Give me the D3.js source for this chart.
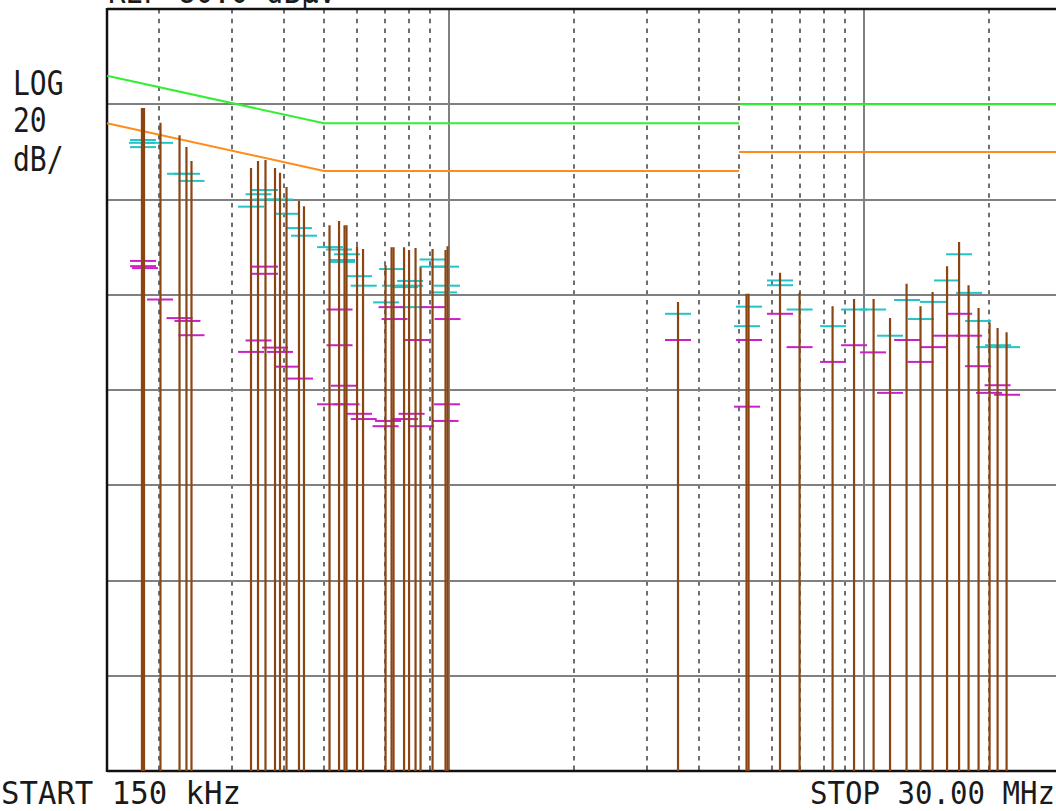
<!DOCTYPE html>
<html>
<head>
<meta charset="utf-8">
<script src="https://cdn.jsdelivr.net/npm/d3@7/dist/d3.min.js"></script>
<style>
  body { margin: 0; background: #fff; }
  svg text { font-family: "DejaVu Sans Mono", monospace; fill: #1a1a1a; }
</style>
</head>
<body>
<div id="chart"></div>
<script>
// frequency in MHz, level in dBuV
const peaks = [
  [0.1821, 59.2], [0.1842, 59.2], [0.2018, 56.1], [0.2243, 53.5], [0.2331, 51.0], [0.2397, 48.1],
  [0.3335, 46.6], [0.3467, 48.1], [0.3614, 48.3], [0.3810, 46.6], [0.3917, 45.6], [0.4061, 42.6],
  [0.4352, 39.7], [0.4474, 38.6],
  [0.5155, 34.6], [0.5435, 35.5], [0.5603, 34.6], [0.5665, 34.6], [0.6006, 30.2], [0.6209, 29.6],
  [0.7035, 26.2], [0.7273, 30.0], [0.7354, 30.0], [0.7796, 30.0], [0.8015, 29.4], [0.8309, 29.8],
  [0.8543, 25.8], [0.9131, 29.6], [0.9813, 29.4], [0.9923, 30.2],
  [3.564, 18.5], [5.212, 20.2], [5.271, 20.2], [6.276, 24.6], [6.996, 20.4], [8.401, 17.6],
  [9.464, 19.1], [10.548, 19.1], [11.555, 15.1], [12.666, 22.3], [13.684, 17.6], [14.630, 20.6],
  [15.856, 26.0], [16.949, 31.1], [17.865, 22.0], [18.884, 17.2], [20.075, 14.1], [20.985, 13.0],
  [22.059, 12.1]
];

// quasi-peak readings (cyan)
const qpMarks = [
  [0.1832, 52.5], [0.1821, 51.9], [0.2013, 51.9], [0.1832, 51.0], [0.2249, 45.4], [0.2338, 45.4],
  [0.2397, 43.9],
  [0.3604, 42.0], [0.3477, 41.1], [0.3624, 40.0], [0.3917, 40.0], [0.3335, 38.5], [0.4072, 37.0],
  [0.4352, 34.0], [0.4474, 32.4],
  [0.5170, 30.0], [0.5435, 29.5], [0.5681, 28.5], [0.5526, 27.3], [0.5526, 26.9], [0.6073, 23.9],
  [0.6233, 21.9], [0.9131, 27.4], [0.9131, 25.9], [0.9840, 25.9], [0.7294, 25.4], [0.8060, 22.9],
  [0.7416, 21.9], [0.8060, 21.9], [0.7839, 21.6], [0.9895, 21.9], [0.9732, 20.5], [0.7055, 18.4],
  [0.8195, 17.4],
  [3.564, 16.0], [5.285, 17.5], [5.227, 13.4], [6.276, 23.0], [6.276, 22.0], [6.996, 16.9],
  [8.424, 13.4], [9.464, 16.9], [10.518, 16.9], [11.555, 11.4], [12.702, 18.9], [13.722, 14.9],
  [14.671, 18.5], [15.856, 23.0], [16.949, 28.5], [17.915, 20.4], [18.832, 14.5], [20.019, 9.0],
  [21.043, 9.4], [22.120, 9.0]
];

// average readings (magenta)
const avMarks = [
  [0.1832, 27.1], [0.1832, 26.0], [0.1852, 25.6], [0.2013, 19.0], [0.2243, 15.1], [0.2344, 14.5],
  [0.2397, 11.5],
  [0.3604, 25.9], [0.3604, 24.4], [0.3477, 10.4], [0.3810, 8.9], [0.3335, 8.0], [0.3917, 8.0],
  [0.4072, 4.9], [0.4376, 2.4],
  [0.5450, 16.9], [0.7273, 17.4], [0.9131, 17.4], [0.7395, 14.9], [0.9923, 14.9], [0.8355, 10.5],
  [0.5450, 9.4], [0.5587, 0.9], [0.5170, -3.0], [0.5665, -3.0], [0.6073, -5.0], [0.6233, -6.1],
  [0.7133, -6.5], [0.7035, -7.6], [0.8127, -5.0], [0.7839, -6.1], [0.8567, -7.6], [0.9895, -3.0],
  [0.9813, -6.5],
  [3.564, 10.5], [5.285, 10.5], [5.227, -3.5], [6.276, 16.0], [6.996, 9.0], [8.424, 5.9],
  [9.464, 9.4], [10.518, 7.9], [11.555, -0.6], [12.702, 10.5], [13.684, 5.9], [14.671, 9.0],
  [15.768, 11.4], [17.915, 11.4], [16.949, 16.0], [18.832, 5.0], [20.985, 1.0], [20.019, -0.6],
  [22.120, -1.0]
];

// limit lines, split at the 5 MHz step
const qpLimit = [[[0.15, 66], [0.5, 56], [5, 56]], [[5, 60], [30, 60]]];
const avLimit = [[[0.15, 56], [0.5, 46], [5, 46]], [[5, 50], [30, 50]]];

const majorFreqs = [1, 10];
const minorFreqs = [0.2, 0.3, 0.4, 0.5, 0.6, 0.7, 0.8, 0.9, 2, 3, 4, 5, 6, 7, 8, 9, 20];
const levelTicks = [60, 40, 20, 0, -20, -40, -60];
const scaleLabels = ["LOG", "20", "dB/"];
const refLabel = "REF 80.0 dB\u03bcV";
const startLabel = "START 150 kHz";
const stopLabel = "STOP 30.00 MHz";

const width = 1056, height = 811;
const plotLeft = 107, plotTop = 9, plotBottom = 771;

const svg = d3.select("#chart").append("svg")
  .attr("width", width)
  .attr("height", height);

const x = d3.scaleLog().domain([0.15, 30]).range([plotLeft, 1062]);
const y = d3.scaleLinear().domain([-80, 80]).range([plotBottom, plotTop]);

// grid
const grid = svg.append("g");
grid.selectAll(".minor")
  .data(minorFreqs)
  .enter().append("line")
    .attr("x1", d => Math.round(x(d)))
    .attr("x2", d => Math.round(x(d)))
    .attr("y1", plotTop)
    .attr("y2", plotBottom)
    .attr("stroke", "#6e6e6e")
    .attr("stroke-width", 2)
    .attr("stroke-dasharray", "4.5,5.2");

grid.selectAll(".major")
  .data(majorFreqs)
  .enter().append("line")
    .attr("x1", d => Math.round(x(d)))
    .attr("x2", d => Math.round(x(d)))
    .attr("y1", plotTop)
    .attr("y2", plotBottom)
    .attr("stroke", "#808080")
    .attr("stroke-width", 2);

grid.selectAll(".level")
  .data(levelTicks)
  .enter().append("line")
    .attr("x1", plotLeft)
    .attr("x2", width)
    .attr("y1", d => Math.round(y(d)))
    .attr("y2", d => Math.round(y(d)))
    .attr("stroke", "#808080")
    .attr("stroke-width", 2);

// frame
grid.append("line").attr("x1", plotLeft).attr("x2", plotLeft).attr("y1", plotTop - 1).attr("y2", plotBottom + 1)
  .attr("stroke", "#111").attr("stroke-width", 2.5);
grid.append("line").attr("x1", plotLeft).attr("x2", width).attr("y1", plotTop).attr("y2", plotTop)
  .attr("stroke", "#111").attr("stroke-width", 2.5);
grid.append("line").attr("x1", plotLeft).attr("x2", width).attr("y1", plotBottom).attr("y2", plotBottom)
  .attr("stroke", "#111").attr("stroke-width", 2.5);

// limits
const limitLine = d3.line().x(d => x(d[0])).y(d => y(d[1]));
svg.selectAll(".qp-limit")
  .data(qpLimit)
  .enter().append("path")
    .attr("d", limitLine)
    .attr("fill", "none")
    .attr("stroke", "#33ee33")
    .attr("stroke-width", 2);
svg.selectAll(".av-limit")
  .data(avLimit)
  .enter().append("path")
    .attr("d", limitLine)
    .attr("fill", "none")
    .attr("stroke", "#ff8c1a")
    .attr("stroke-width", 2);

// measurement ticks
const tickHalf = 13;
svg.selectAll(".qp")
  .data(qpMarks)
  .enter().append("line")
    .attr("x1", d => x(d[0]) - tickHalf)
    .attr("x2", d => x(d[0]) + tickHalf)
    .attr("y1", d => y(d[1]))
    .attr("y2", d => y(d[1]))
    .attr("stroke", "#22c4c8")
    .attr("stroke-width", 2);
svg.selectAll(".av")
  .data(avMarks)
  .enter().append("line")
    .attr("x1", d => x(d[0]) - tickHalf)
    .attr("x2", d => x(d[0]) + tickHalf)
    .attr("y1", d => y(d[1]))
    .attr("y2", d => y(d[1]))
    .attr("stroke", "#cc1fcc")
    .attr("stroke-width", 2);

// peak trace
svg.selectAll(".peak")
  .data(peaks)
  .enter().append("line")
    .attr("x1", d => x(d[0]))
    .attr("x2", d => x(d[0]))
    .attr("y1", d => y(d[1]))
    .attr("y2", plotBottom)
    .attr("stroke", "#8b4513")
    .attr("stroke-width", 2.2);

// labels
svg.selectAll(".scale-label")
  .data(scaleLabels)
  .enter().append("text")
    .attr("transform", (d, i) => `translate(13,${[95, 132, 171][i]}) scale(1,1.22)`)
    .attr("font-size", 28)
    .text(d => d);

svg.append("text")
  .attr("transform", "translate(108,3) scale(1,1.15)")
  .attr("font-size", 30)
  .attr("textLength", 228)
  .attr("lengthAdjust", "spacingAndGlyphs")
  .text(refLabel);

svg.append("text")
  .attr("transform", "translate(1,804) scale(1,1.12)")
  .attr("font-size", 29)
  .attr("textLength", 240)
  .attr("lengthAdjust", "spacingAndGlyphs")
  .text(startLabel);

svg.append("text")
  .attr("transform", "translate(810,804) scale(1,1.12)")
  .attr("font-size", 29)
  .attr("textLength", 245)
  .attr("lengthAdjust", "spacingAndGlyphs")
  .text(stopLabel);
</script>
</body>
</html>
